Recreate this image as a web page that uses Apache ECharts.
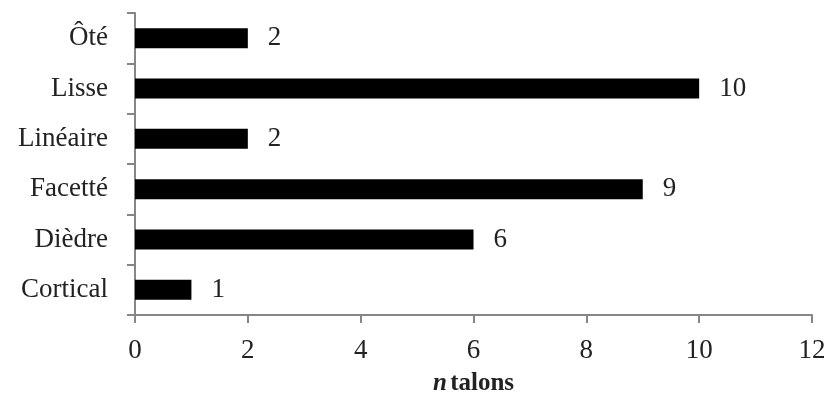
<!DOCTYPE html>
<html><head><meta charset="utf-8">
<script src="https://cdn.jsdelivr.net/npm/echarts@6/dist/echarts.min.js"></script>
<style>html,body{margin:0;padding:0;background:#fff}#c{width:834px;height:401px}</style>
</head><body><div id="c"></div>
<script>
const categories = ['Cortical', 'Dièdre', 'Facetté', 'Linéaire', 'Lisse', 'Ôté'];
const values = [1, 6, 9, 2, 10, 2];
const xTicks = { min: 0, max: 12, interval: 2 };
const axisTitleItalic = 'n';
const axisTitleRest = 'talons';

const FONT = '"Liberation Serif", "DejaVu Serif", serif';
const chart = echarts.init(document.getElementById('c'), null, { renderer: 'canvas' });
chart.setOption({
  animation: false,
  backgroundColor: '#fff',
  grid: { left: 135, right: 22, top: 13, bottom: 86, containLabel: false, outerBoundsMode: 'none' },
  xAxis: {
    type: 'value', min: xTicks.min, max: xTicks.max, interval: xTicks.interval,
    axisLine: { show: true, lineStyle: { color: '#868686', width: 2 } },
    axisTick: { show: true, length: 8, lineStyle: { color: '#868686', width: 2 } },
    splitLine: { show: false },
    axisLabel: { color: '#222', fontFamily: FONT, fontSize: 27, margin: 22 },
    name: '{i|' + axisTitleItalic + '} {b|' + axisTitleRest + '}',
    nameLocation: 'middle', nameGap: 56,
    nameTextStyle: {
      rich: {
        i: { fontFamily: FONT, fontSize: 25, fontStyle: 'italic', fontWeight: 'bold', color: '#222' },
        b: { fontFamily: FONT, fontSize: 25, fontWeight: 'bold', color: '#222' }
      }
    }
  },
  yAxis: {
    type: 'category', data: categories,
    axisLine: { show: true, lineStyle: { color: '#868686', width: 2 } },
    axisTick: { show: true, length: 8, alignWithLabel: false, lineStyle: { color: '#868686', width: 2 } },
    axisLabel: { color: '#222', fontFamily: FONT, fontSize: 27, margin: 27 }
  },
  series: [{
    type: 'bar', data: values, barWidth: 20,
    itemStyle: { color: '#000' },
    label: { show: true, position: 'right', distance: 20, color: '#222', fontFamily: FONT, fontSize: 27 }
  }]
});
</script></body></html>
